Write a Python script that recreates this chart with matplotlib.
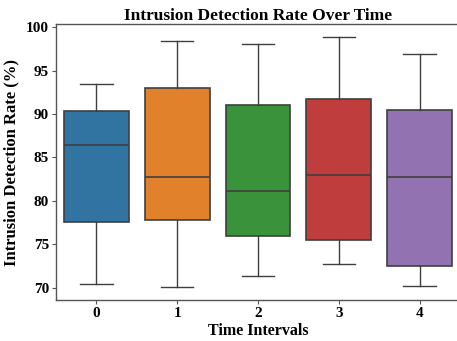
import matplotlib
matplotlib.use("Agg")
import matplotlib.pyplot as plt

# box statistics, one entry per time interval
intervals = ["0", "1", "2", "3", "4"]
whis_low = [70.38, 70.03, 71.38, 72.72, 70.20]
q1 = [77.62, 77.78, 76.00, 75.48, 72.53]
median = [86.40, 82.80, 81.10, 82.95, 82.76]
q3 = [90.31, 92.95, 91.00, 91.69, 90.46]
whis_high = [93.41, 98.39, 98.12, 98.93, 96.90]

colors = ["#3274a1", "#e1812c", "#3a923a", "#c03d3e", "#9372b2"]
line_col = "#3f3f3f"

plt.rcParams['font.family'] = ['Liberation Serif', 'DejaVu Serif']

stats = []
for i in range(len(intervals)):
    stats.append(dict(label=intervals[i], whislo=whis_low[i], q1=q1[i],
                      med=median[i], q3=q3[i], whishi=whis_high[i], fliers=[]))

fig = plt.figure(figsize=(4.57, 3.41), dpi=100)
ax = fig.add_axes([56 / 457, 41 / 341, 404 / 457, 276 / 341])

bp = ax.bxp(stats, positions=range(len(intervals)), widths=0.8,
            patch_artist=True, showfliers=False,
            boxprops=dict(edgecolor=line_col, linewidth=1.2),
            medianprops=dict(color=line_col, linewidth=1.2),
            whiskerprops=dict(color=line_col, linewidth=1.0),
            capprops=dict(color=line_col, linewidth=1.0))
for patch, c in zip(bp['boxes'], colors):
    patch.set_facecolor(c)

ax.set_xlim(-0.5, len(intervals) - 0.5)
ax.set_ylim(68.58, 100.38)
ax.set_yticks([70, 75, 80, 85, 90, 95, 100])
ax.set_xticks(range(len(intervals)))
ax.set_xticklabels(intervals)

for s in ax.spines.values():
    s.set_color("#555555")
    s.set_linewidth(1.0)
ax.tick_params(axis='both', length=3, width=0.8, color="#555555",
               labelsize=11, pad=2)
for lab in ax.get_xticklabels() + ax.get_yticklabels():
    lab.set_fontweight('bold')

ax.set_title("Intrusion Detection Rate Over Time", fontsize=12.5,
             fontweight='bold', pad=3)
ax.set_xlabel("Time Intervals", fontsize=11.5, fontweight='bold', labelpad=2)
ax.set_ylabel("Intrusion Detection Rate (%)", fontsize=12, fontweight='bold',
              labelpad=5)

fig.savefig("out.png", dpi=100)
